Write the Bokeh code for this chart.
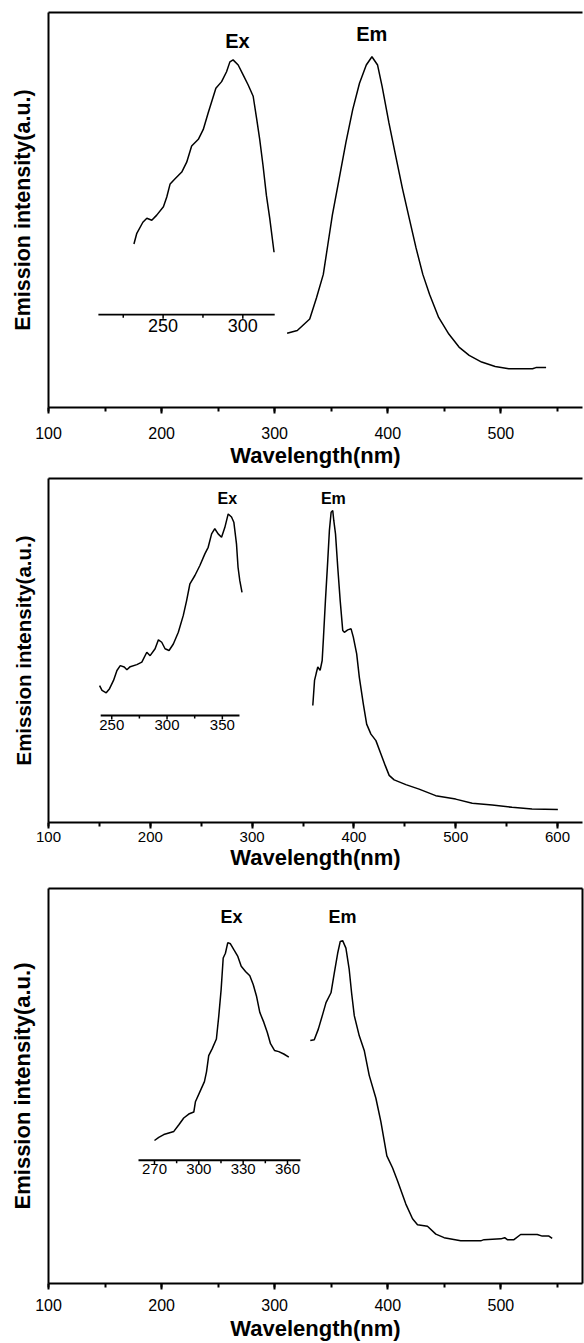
import math
from bokeh.plotting import figure
from bokeh.layouts import column
from bokeh.models import Range1d, LinearAxis, FixedTicker, SingleIntervalTicker
from bokeh.core.properties import value
from bokeh.embed import file_html
from bokeh.resources import INLINE

FONT = "Liberation Sans"
X_LABEL = "Wavelength(nm)"
Y_LABEL = "Emission intensity(a.u.)"
EX_TEXT = "Ex"
EM_TEXT = "Em"

# ---------------- Panel 1 ----------------
em1_wl = [311, 320, 331, 337, 343, 347, 351, 357, 363, 369, 375, 381, 386, 391, 395, 401,
          407, 413, 419, 425, 431, 437, 445, 454, 463, 472, 483, 495, 507, 528, 531, 540]
em1_int = [0.188, 0.195, 0.224, 0.278, 0.337, 0.412, 0.487, 0.579, 0.671, 0.754, 0.821, 0.867,
           0.888, 0.867, 0.813, 0.721, 0.637, 0.554, 0.479, 0.404, 0.337, 0.286, 0.228, 0.186,
           0.153, 0.132, 0.115, 0.104, 0.098, 0.098, 0.101, 0.101]
ex1_wl = [231.7, 233.5, 237.3, 239.8, 242.9, 246.0, 250.2, 252.3, 254.4, 257.5, 261.7, 264.8,
          267.9, 272.1, 275.2, 278.3, 283.1, 286.7, 289.8, 291.9, 293.9, 297.1, 300.2, 303.3,
          306.5, 308.6, 310.6, 312.7, 314.8, 316.9, 319.6]
ex1_int = [0.414, 0.441, 0.469, 0.479, 0.474, 0.487, 0.508, 0.533, 0.566, 0.579, 0.596, 0.621,
           0.662, 0.679, 0.704, 0.746, 0.808, 0.825, 0.850, 0.875, 0.880, 0.867, 0.842, 0.817,
           0.788, 0.733, 0.679, 0.612, 0.537, 0.479, 0.393]
ex1_major = [250, 300]
ex1_minor = [225, 275]
main1_ticks = [100, 200, 300, 400, 500]

# ---------------- Panel 2 ----------------
em2_wl = [359.6, 361.3, 362.9, 364.5, 366.8, 368.8, 370.1, 372.0, 374.3, 375.9, 377.6, 379.2,
          380.2, 381.9, 384.1, 386.5, 389.0, 390.6, 393.9, 397.2, 399.4, 402.7, 405.3, 409.2,
          412.5, 416.7, 421.6, 426.5, 430.7, 434.6, 439.5, 451.0, 464.0, 480.3, 499.9, 516.2,
          535.8, 555.3, 574.9, 600.3]
em2_int = [0.340, 0.413, 0.433, 0.452, 0.442, 0.471, 0.539, 0.645, 0.762, 0.849, 0.902, 0.907,
           0.878, 0.839, 0.742, 0.645, 0.558, 0.553, 0.560, 0.563, 0.539, 0.490, 0.422, 0.345,
           0.286, 0.257, 0.238, 0.199, 0.166, 0.137, 0.124, 0.110, 0.097, 0.078, 0.068, 0.056,
           0.051, 0.044, 0.039, 0.038]
ex2_wl = [239.0, 241.2, 245.0, 248.0, 251.6, 254.7, 257.7, 261.3, 263.7, 266.7, 272.7, 277.2,
          281.7, 284.7, 289.2, 292.2, 295.2, 298.2, 301.8, 305.7, 310.2, 314.7, 317.7, 320.7,
          325.2, 329.7, 334.2, 337.2, 340.3, 343.2, 346.2, 349.3, 352.3, 355.3, 358.3, 360.4,
          362.8, 364.2, 365.8, 367.8]
ex2_int = [0.398, 0.384, 0.377, 0.389, 0.413, 0.442, 0.456, 0.452, 0.444, 0.453, 0.459, 0.466,
           0.495, 0.485, 0.505, 0.531, 0.524, 0.505, 0.500, 0.519, 0.553, 0.602, 0.645, 0.694,
           0.718, 0.747, 0.781, 0.800, 0.839, 0.854, 0.839, 0.829, 0.858, 0.897, 0.888, 0.873,
           0.810, 0.742, 0.703, 0.669]
ex2_major = [250, 300, 350]
ex2_minor = [275, 325]
main2_ticks = [100, 200, 300, 400, 500, 600]

# ---------------- Panel 3 ----------------
em3_wl = [331.5, 335.0, 338.6, 342.5, 345.4, 349.8, 352.7, 355.7, 358.0, 360.1, 363.0, 365.9,
          368.0, 370.4, 374.8, 379.2, 383.6, 389.5, 393.9, 399.2, 404.2, 408.6, 416.0, 421.9,
          426.3, 435.1, 442.5, 449.8, 464.5, 482.2, 485.1, 500.0, 503.4, 505.7, 511.6, 517.5,
          532.2, 536.6, 542.5, 545.4]
em3_int = [0.615, 0.617, 0.644, 0.682, 0.711, 0.736, 0.786, 0.836, 0.866, 0.868, 0.849, 0.795,
           0.736, 0.678, 0.627, 0.590, 0.527, 0.469, 0.410, 0.323, 0.293, 0.260, 0.201, 0.164,
           0.149, 0.145, 0.125, 0.116, 0.108, 0.108, 0.111, 0.113, 0.116, 0.111, 0.111, 0.124,
           0.124, 0.120, 0.120, 0.114]
ex3_wl = [270.0, 272.9, 276.3, 279.7, 283.1, 286.5, 289.8, 293.2, 296.6, 297.7, 300.7, 303.8,
          305.2, 306.7, 309.0, 311.9, 313.5, 315.1, 316.5, 318.0, 319.6, 321.4, 323.7, 326.4,
          328.7, 331.6, 334.5, 336.8, 339.0, 341.3, 344.0, 346.3, 348.5, 351.2, 354.1, 357.5,
          360.9]
ex3_int = [0.362, 0.370, 0.377, 0.381, 0.385, 0.402, 0.419, 0.429, 0.434, 0.460, 0.485, 0.511,
           0.536, 0.577, 0.594, 0.619, 0.677, 0.744, 0.824, 0.836, 0.863, 0.860, 0.845, 0.828,
           0.803, 0.790, 0.779, 0.757, 0.728, 0.686, 0.661, 0.636, 0.607, 0.590, 0.587, 0.581,
           0.573]
ex3_major = [270, 300, 330, 360]
ex3_minor = [285, 315, 345]
main3_ticks = [100, 200, 300, 400, 500]

panels = [
    dict(height=470, top=12, bottom=59, right=0, x_end=572.2, right_border=False,
         ex_range=(178.1, 513.1), inset_span=(209.4, 320.0), inset_base=0.235,
         em=(em1_wl, em1_int), ex=(ex1_wl, ex1_int), ex_major=ex1_major, ex_minor=ex1_minor,
         ex_lab=(296.6, 0.927, "20px"), em_lab=(385.9, 0.945, "20px"),
         inset_font="18px", tick_font="16px", ticks=main1_ticks,
         tick_standoff=13, label_standoff=1, ylabel_font="21.5px"),
    dict(height=402, top=8, bottom=50, right=0, x_end=624.5, right_border=False,
         ex_range=(192.8, 675.7), inset_span=(240.0, 365.5), inset_base=0.311,
         em=(em2_wl, em2_int), ex=(ex2_wl, ex2_int), ex_major=ex2_major, ex_minor=ex2_minor,
         ex_lab=(354.5, 0.942, "16px"), em_lab=(379.8, 0.942, "16px"),
         inset_font="15px", tick_font="15px", ticks=main2_ticks,
         tick_standoff=3, label_standoff=0, ylabel_font="20.5px"),
    dict(height=471, top=16, bottom=56, right=2, x_end=572.2, right_border=True,
         ex_range=(198.3, 559.6), inset_span=(259.2, 368.8), inset_base=0.312,
         em=(em3_wl, em3_int), ex=(ex3_wl, ex3_int), ex_major=ex3_major, ex_minor=ex3_minor,
         ex_lab=(322.1, 0.927, "18px"), em_lab=(359.9, 0.927, "18px"),
         inset_font="15px", tick_font="16px", ticks=main3_ticks,
         tick_standoff=9, label_standoff=2, ylabel_font="22px"),
]


def blank_axis():
    ax = LinearAxis(ticker=FixedTicker(ticks=[]))
    ax.axis_line_width = 2
    ax.major_tick_out = 0
    ax.major_tick_in = 0
    ax.minor_tick_out = 0
    ax.minor_tick_in = 0
    ax.major_label_text_font_size = "0px"
    return ax


def make_panel(c):
    p = figure(width=584, height=c["height"], x_range=Range1d(100, c["x_end"]),
               y_range=Range1d(0, 1), output_backend="svg", toolbar_location=None,
               min_border_left=48, min_border_right=c["right"], min_border_top=c["top"],
               min_border_bottom=c["bottom"], x_axis_location=None, y_axis_location=None)
    p.extra_x_ranges = {"ex": Range1d(*c["ex_range"])}
    p.grid.visible = False
    p.outline_line_color = None
    p.background_fill_color = "white"
    p.border_fill_color = "white"

    # bottom axis
    xa = LinearAxis(ticker=SingleIntervalTicker(interval=100, num_minor_ticks=2))
    xa.axis_line_width = 2
    xa.major_tick_line_width = 2
    xa.minor_tick_line_width = 2
    xa.major_tick_in = 0
    xa.major_tick_out = 6
    xa.minor_tick_in = 0
    xa.minor_tick_out = 4
    xa.major_label_text_font = FONT
    xa.major_label_text_font_size = c["tick_font"]
    xa.major_label_text_color = "black"
    xa.major_label_standoff = c["tick_standoff"]
    xa.axis_label = X_LABEL
    xa.axis_label_text_font = FONT
    xa.axis_label_text_font_style = "bold"
    xa.axis_label_text_font_size = "22px"
    xa.axis_label_text_color = "black"
    xa.axis_label_standoff = c["label_standoff"]
    p.add_layout(xa, "below")

    # left axis (no ticks)
    ya = blank_axis()
    ya.axis_label = Y_LABEL
    ya.axis_label_text_font = FONT
    ya.axis_label_text_font_style = "bold"
    ya.axis_label_text_font_size = c["ylabel_font"]
    ya.axis_label_text_color = "black"
    ya.axis_label_standoff = 14
    p.add_layout(ya, "left")

    p.add_layout(blank_axis(), "above")
    if c["right_border"]:
        p.add_layout(blank_axis(), "right")

    # emission spectrum on the main axis
    p.line(c["em"][0], c["em"][1], line_color="black", line_width=1.5)
    # excitation spectrum on the inset axis
    p.line(c["ex"][0], c["ex"][1], line_color="black", line_width=1.5, x_range_name="ex")

    base = c["inset_base"]
    x0, x1 = c["inset_span"]
    p.segment(x0=[x0], y0=[base], x1=[x1], y1=[base], line_color="black", line_width=1.8,
              x_range_name="ex")
    p.ray(x=c["ex_major"], y=[base] * len(c["ex_major"]), length=4, length_units="screen",
          angle=-math.pi / 2, line_color="black", line_width=1.5, x_range_name="ex")
    p.ray(x=c["ex_minor"], y=[base] * len(c["ex_minor"]), length=3, length_units="screen",
          angle=-math.pi / 2, line_color="black", line_width=1.5, x_range_name="ex")
    p.text(x=c["ex_major"], y=[base] * len(c["ex_major"]), text=[str(t) for t in c["ex_major"]],
           text_font=value(FONT), text_font_size=c["inset_font"], text_align="center",
           text_baseline="top", y_offset=4, text_color="black", x_range_name="ex")

    ex_x, ex_y, ex_fs = c["ex_lab"]
    p.text(x=[ex_x], y=[ex_y], text=[EX_TEXT], text_font=value(FONT), text_font_style="bold",
           text_font_size=ex_fs, text_align="center", text_baseline="middle",
           text_color="black", x_range_name="ex")
    em_x, em_y, em_fs = c["em_lab"]
    p.text(x=[em_x], y=[em_y], text=[EM_TEXT], text_font=value(FONT), text_font_style="bold",
           text_font_size=em_fs, text_align="center", text_baseline="middle",
           text_color="black")
    return p


figs = [make_panel(c) for c in panels]
layout = column(*figs, spacing=0)
open("out.html", "w").write(file_html(layout, INLINE))
